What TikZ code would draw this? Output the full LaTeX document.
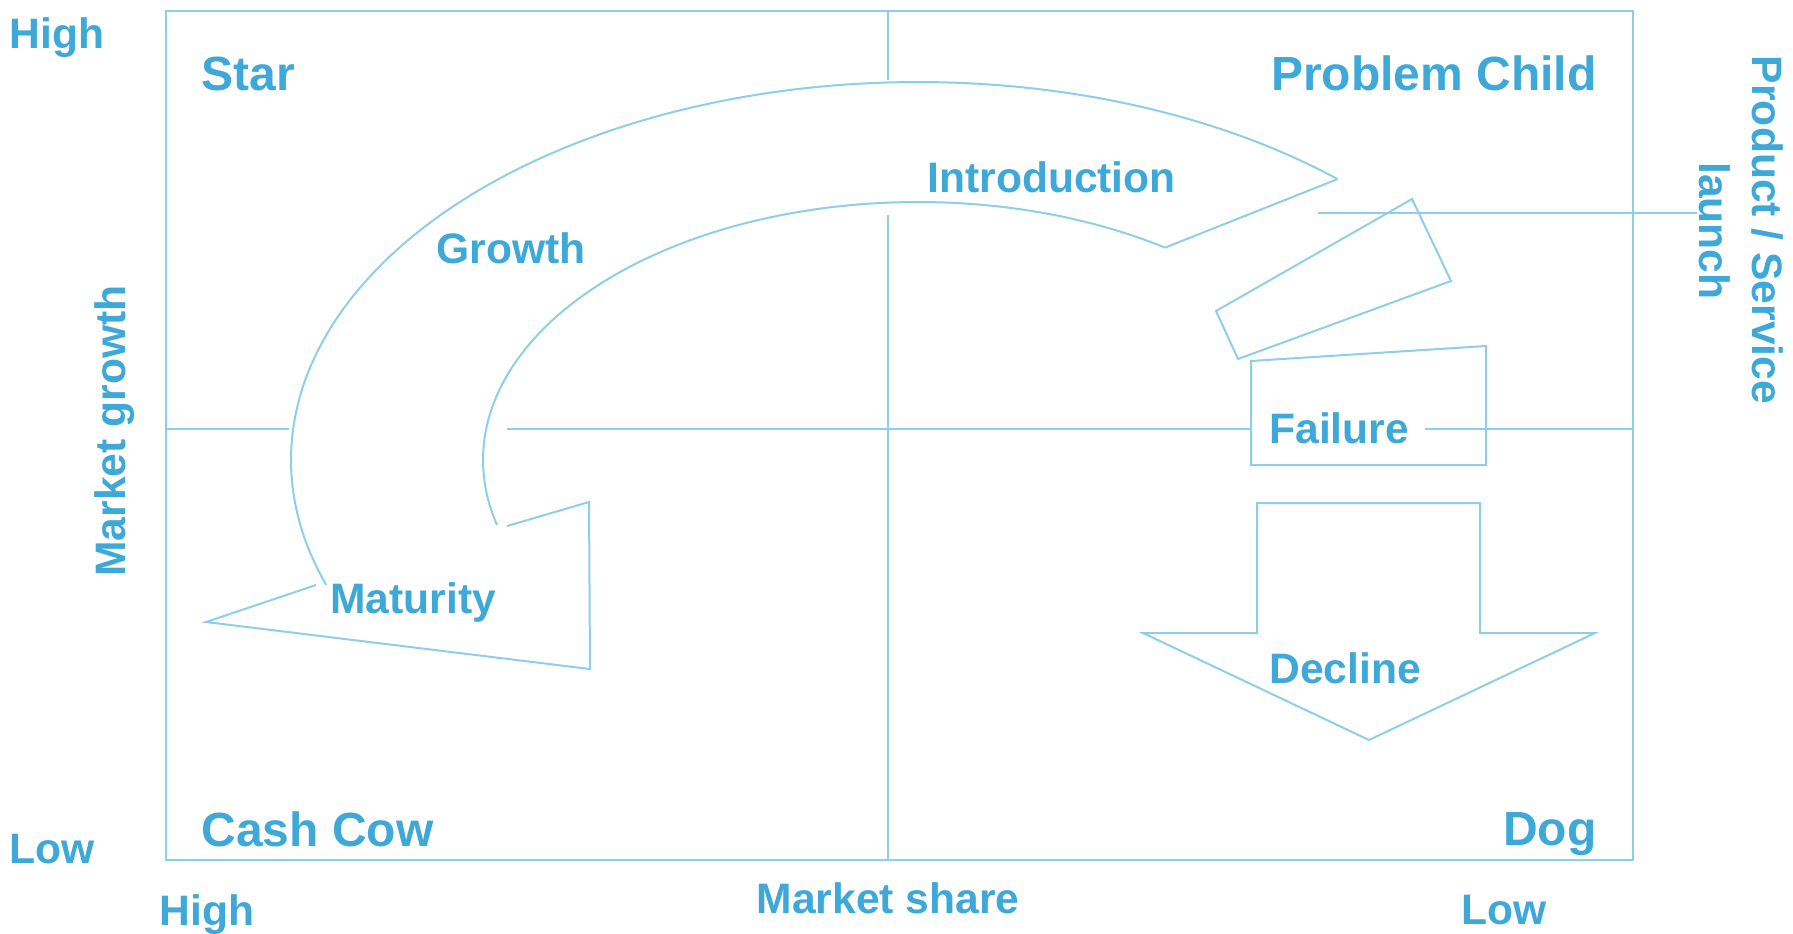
\documentclass[tikz,border=0pt]{standalone}
\usepackage{fontspec}
\setmainfont{Liberation Sans}
\definecolor{linec}{RGB}{142,206,232}
\definecolor{txtc}{RGB}{62,169,216}
\begin{document}
\begin{tikzpicture}[x=0.5pt,y=-0.5pt,
  ln/.style={draw=linec, line width=1pt, line join=miter},
  lbl/.style={text=txtc, font=\fontsize{21.3}{25}\selectfont\bfseries, inner sep=0pt},
  quad/.style={text=txtc, font=\fontsize{24}{28}\selectfont\bfseries, inner sep=0pt}]
\useasboundingbox (0,0) rectangle (1793,933);
% frame
\draw[ln] (166,11) rectangle (1633,860);
% vertical midline
\draw[ln] (888,11) -- (888,80);
\draw[ln] (888,215) -- (888,860);
% horizontal midline
\draw[ln] (166,429) -- (289,429);
\draw[ln] (507,429) -- (1251,429);
\draw[ln] (1425,429) -- (1633,429);
% big curved arrow
\coordinate (oe) at ({918+627*cos(-48)},{460+378*sin(-48)});
\coordinate (ie) at ({918+435*cos(-55.4)},{460+258*sin(-55.4)});
\draw[ln] plot[domain=-199.3:-48, samples=150, variable=\t] ({918+627*cos(\t)},{460+378*sin(\t)});
\draw[ln] plot[domain=-194.6:-55.4, samples=150, variable=\t] ({918+435*cos(\t)},{460+258*sin(\t)});
\draw[ln] (oe) -- (ie);
% maturity arrowhead
\coordinate (m1) at (507,526);
\coordinate (m2) at (589,502);
\coordinate (m3) at (590,669);
\coordinate (mt) at (206,622);
\coordinate (m4) at (316,585);
\draw[ln] (m1) -- (m2) -- (m3) -- (mt) -- (m4);
% product launch line and tilted box
\coordinate (pl1) at (1318,213);
\coordinate (pl2) at (1697,213);
\draw[ln] (pl1) -- (pl2);
\draw[ln] (1412,199) -- (1451,281) -- (1238,359) -- (1216,311) -- cycle;
% failure box
\draw[ln] (1251,361) -- (1486,346) -- (1486,465) -- (1251,465) -- cycle;
% decline arrow
\draw[ln] (1257,503) -- (1480,503) -- (1480,633) -- (1595,633) -- (1369,740) -- (1143,633) -- (1257,633) -- cycle;
% labels
\node[lbl, anchor=base west] (hightl) at (9,48) {High};
\node[lbl, anchor=base west] (lowl) at (9,863) {Low};
\node[lbl, anchor=base west] (highb) at (159,925) {High};
\node[lbl, anchor=base west] (lowb) at (1461,924) {Low};
\node[lbl, anchor=base] (mshare) at (888,913) {Market share};
\node[lbl, anchor=base, rotate=90] (mgrowth) at (125,431) {Market growth};
\node[lbl, anchor=base, rotate=-90] (prod) at (1752,230) {Product / Service};
\node[lbl, anchor=base, rotate=-90] (launch) at (1699,231) {launch};
\node[quad, anchor=base west] (star) at (201,90) {Star};
\node[quad, anchor=base east] (pchild) at (1597,90) {Problem Child};
\node[quad, anchor=base west] (cow) at (201,846) {Cash Cow};
\node[quad, anchor=base east] (dog) at (1597,845) {Dog};
\node[lbl, anchor=base west] (intro) at (927,192) {Introduction};
\node[lbl, anchor=base west] (growth) at (436,263) {Growth};
\node[lbl, anchor=base west] (mat) at (330,613) {Maturity};
\node[lbl, anchor=base west] (fail) at (1269,443) {Failure};
\node[lbl, anchor=base west] (decl) at (1269,683) {Decline};
\end{tikzpicture}
\end{document}
